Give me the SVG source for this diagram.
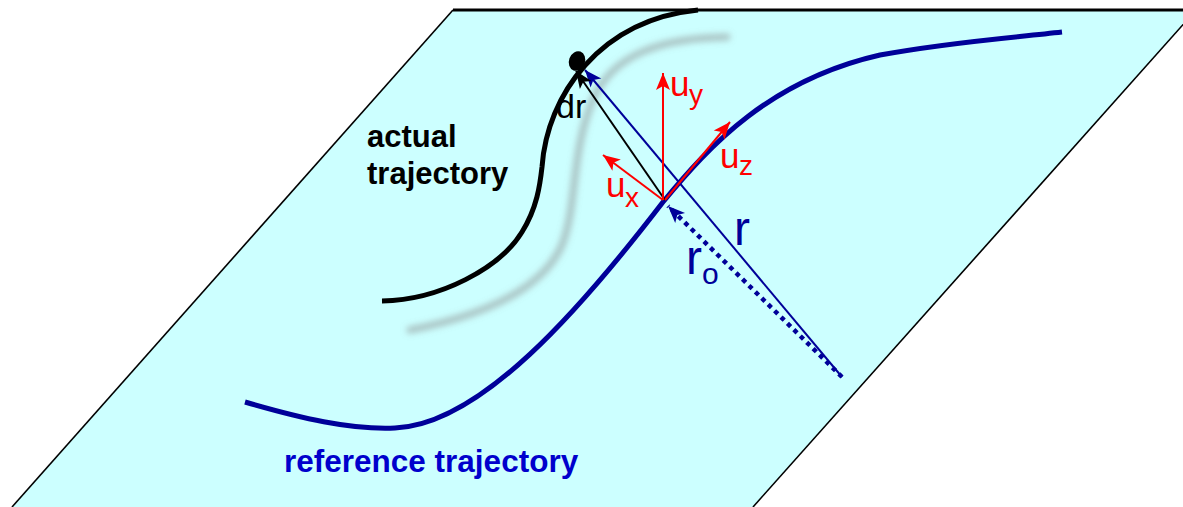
<svg xmlns="http://www.w3.org/2000/svg" width="1183" height="507" viewBox="0 0 1183 507">
<style>
.lbl{font-family:"Liberation Sans",Arial,sans-serif}
.bold{font-weight:bold}
.red{fill:#FF0000}
.navy{fill:#000099}
.vec{fill:none;stroke-width:2}
</style>
<defs>
<filter id="blur" x="-20%" y="-20%" width="140%" height="140%"><feGaussianBlur stdDeviation="3"/></filter>
<marker id="ahRed" markerUnits="userSpaceOnUse" viewBox="-18 -8 20 16" refX="0" refY="0" markerWidth="20" markerHeight="16" orient="auto"><path d="M0,0 L-17,-7 L-13,0 L-17,7 z" fill="#FF0000"/></marker>
<marker id="ahBlue" markerUnits="userSpaceOnUse" viewBox="-18 -8 20 16" refX="0" refY="0" markerWidth="20" markerHeight="16" orient="auto"><path d="M0,0 L-17,-7 L-13,0 L-17,7 z" fill="#000099"/></marker>
<marker id="ahBlack" markerUnits="userSpaceOnUse" viewBox="-18 -8 20 16" refX="0" refY="0" markerWidth="20" markerHeight="16" orient="auto"><path d="M0,0 L-17,-7 L-13,0 L-17,7 z" fill="#000000"/></marker>
</defs>

<g id="plane">
<polygon points="453,10 1196,10 753,507 12,507" fill="#CCFFFF"/>
<line x1="453" y1="10" x2="1183" y2="10" stroke="#000" stroke-width="3"/>
<line x1="453" y1="10" x2="12" y2="507" stroke="#000" stroke-width="1.6"/>
<line x1="1196" y1="10" x2="753" y2="507" stroke="#000" stroke-width="1.6"/>
</g>

<g id="shadow">
<path d="M410,330 C470,318 540,295 562,245 C578,205 570,150 595,95 C615,55 660,38 727,37" fill="none" stroke="#888" stroke-opacity="0.5" stroke-width="7" stroke-linecap="round" filter="url(#blur)"/>
</g>

<g id="actual-trajectory">
<path d="M382,301 C440,300 500,268 522,232 C537,208 540,185 542,167 C547,95 600,20 698,10" fill="none" stroke="#000" stroke-width="5"/>
<ellipse cx="577" cy="61" rx="8" ry="10" transform="rotate(20 577 61)" fill="#000"/>
<text class="lbl bold" x="367" y="147" font-size="31" fill="#000">actual</text>
<text class="lbl bold" x="367" y="184" font-size="31" fill="#000">trajectory</text>
</g>

<g id="reference-trajectory">
<path d="M245,402 C300,418 350,430 395,428 C480,425 580,310 663,202 C710,145 770,80 880,55 C950,42 1010,38 1062,32" fill="none" stroke="#000099" stroke-width="5"/>
<text class="lbl bold" x="284" y="472" font-size="31.5" fill="#0000CC">reference trajectory</text>
</g>

<g id="connectors">
<line id="r0" x1="842" y1="377" x2="668" y2="206" stroke="#000099" stroke-width="4.5" stroke-dasharray="4.5 4.5" marker-end="url(#ahBlue)"/>
<line id="r" class="vec" x1="842" y1="377" x2="585" y2="70" stroke="#000099" marker-end="url(#ahBlue)"/>
<line id="dr" class="vec" x1="665" y1="200" x2="576" y2="71" stroke="#000" marker-end="url(#ahBlack)"/>
<line id="uy" class="vec" x1="663" y1="200" x2="663" y2="73" stroke="#FF0000" marker-end="url(#ahRed)"/>
<line id="ux" class="vec" x1="663" y1="200" x2="603" y2="155" stroke="#FF0000" marker-end="url(#ahRed)"/>
<line id="uz" class="vec" x1="665" y1="200" x2="730" y2="122" stroke="#FF0000" marker-end="url(#ahRed)"/>
</g>

<g id="labels">
<text class="lbl" x="556" y="118" font-size="34" fill="#000">dr</text>
<text class="lbl red" x="670" y="96" font-size="35">u</text>
<text class="lbl red" x="689" y="104" font-size="28">y</text>
<text class="lbl red" x="606" y="197" font-size="35">u</text>
<text class="lbl red" x="625" y="207" font-size="28">x</text>
<text class="lbl red" x="720" y="168" font-size="35">u</text>
<text class="lbl red" x="739" y="175" font-size="28">z</text>
<text class="lbl navy" x="734" y="245" font-size="48">r</text>
<text class="lbl navy" x="686" y="274" font-size="48">r</text>
<text class="lbl navy" x="702" y="284" font-size="30">o</text>
</g>
</svg>
